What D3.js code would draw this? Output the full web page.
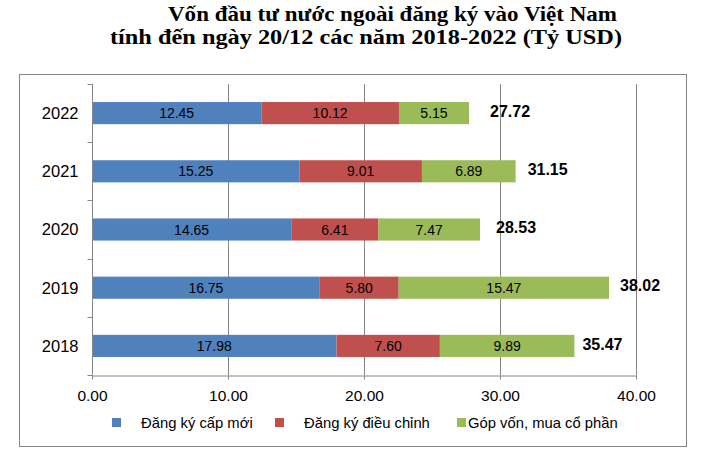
<!DOCTYPE html>
<html lang="vi">
  <head>
    <meta charset="UTF-8" />
    <title>Vốn đầu tư nước ngoài</title>
    <style>
      body { margin: 0; background: #fff; }
      svg text { font-family: "Liberation Sans", Arial, sans-serif; }
      .title { font-family: "Liberation Serif", "Times New Roman", serif !important; font-weight: bold; font-size: 21px; }
    </style>
  </head>
  <body>
    <div class="chart"></div>
    <script src="https://d3js.org/d3.v7.min.js"></script>
    <script>
    // data
    var years = ["2022", "2021", "2020", "2019", "2018"];
    var newReg = [12.45, 15.25, 14.65, 16.75, 17.98];
    var adjReg = [10.12, 9.01, 6.41, 5.80, 7.60];
    var shares = [5.15, 6.89, 7.47, 15.47, 9.89];
    var totals = [27.72, 31.15, 28.53, 38.02, 35.47];
    var seriesNames = ["Đăng ký cấp mới", "Đăng ký điều chỉnh", "Góp vốn, mua cổ phần"];
    var xTicks = [0, 10, 20, 30, 40];

    // layout: the total labels were nudged by hand in the original
    var totalNudge = [21, 12, 16, 11, 8];
    var colors = ["#4F81BD", "#C0504D", "#9BBB59"];
    var w = 707, h = 457;

    var svg = d3.select(".chart").append("svg")
      .attr("width", w)
      .attr("height", h);

    // title
    svg.append("text").attr("class", "title").attr("x", 168).attr("y", 21)
      .attr("textLength", 449).attr("lengthAdjust", "spacingAndGlyphs")
      .text("Vốn đầu tư nước ngoài đăng ký vào Việt Nam");
    svg.append("text").attr("class", "title").attr("x", 110).attr("y", 44)
      .attr("textLength", 512).attr("lengthAdjust", "spacingAndGlyphs")
      .text("tính đến ngày 20/12 các năm 2018-2022 (Tỷ USD)");

    // outer frame
    svg.append("rect")
      .attr("x", 19.5).attr("y", 74.5)
      .attr("width", 667).attr("height", 372)
      .attr("fill", "none")
      .attr("stroke", "#868686");

    var x = d3.scaleLinear().domain([0, 40]).range([92, 636]);
    var y = d3.scaleBand().domain(years).range([84, 375]).paddingInner(0.62).paddingOuter(0.31);

    // gridlines
    svg.append("g").selectAll("line")
      .data(xTicks.slice(1))
      .enter().append("line")
      .attr("x1", function(d) { return x(d) + 0.5; })
      .attr("x2", function(d) { return x(d) + 0.5; })
      .attr("y1", 84).attr("y2", 375)
      .attr("stroke", "#868686");

    // stacked bars
    var rows = years.map(function(yr, i) {
      return { year: yr, vals: [newReg[i], adjReg[i], shares[i]], total: totals[i], nudge: totalNudge[i] };
    });

    rows.forEach(function(r) {
      var start = 0;
      r.vals.forEach(function(v, k) {
        var g = svg.append("g");
        g.append("rect")
          .attr("x", x(start))
          .attr("y", y(r.year))
          .attr("width", x(start + v) - x(start))
          .attr("height", y.bandwidth())
          .attr("fill", colors[k]);
        g.append("text")
          .attr("x", (x(start) + x(start + v)) / 2)
          .attr("y", y(r.year) + y.bandwidth() / 2)
          .attr("dy", "0.36em")
          .attr("text-anchor", "middle")
          .attr("font-size", "14px")
          .text(v.toFixed(2));
        start += v;
      });
      svg.append("text")
        .attr("x", x(r.total) + r.nudge)
        .attr("y", y(r.year) + y.bandwidth() / 2 - 2)
        .attr("dy", "0.36em")
        .attr("font-size", "16px")
        .attr("font-weight", "bold")
        .text(r.total.toFixed(2));
    });

    // y axis
    var yAxis = svg.append("g").attr("transform", "translate(92.5,0)");
    yAxis.append("line").attr("y1", 84).attr("y2", 375).attr("stroke", "#868686");
    var bounds = d3.range(years.length + 1).map(function(i) { return 84 + i * y.step(); });
    yAxis.selectAll(".tk").data(bounds).enter().append("line")
      .attr("x1", -5).attr("x2", 0)
      .attr("y1", function(d) { return Math.round(d) + 0.5; })
      .attr("y2", function(d) { return Math.round(d) + 0.5; })
      .attr("stroke", "#868686");
    yAxis.selectAll("text").data(years).enter().append("text")
      .attr("x", -14)
      .attr("y", function(d) { return y(d) + y.bandwidth() / 2; })
      .attr("dy", "0.36em")
      .attr("text-anchor", "end")
      .attr("font-size", "16.5px")
      .text(function(d) { return d; });

    // x axis
    var xAxis = svg.append("g").attr("transform", "translate(0,375.5)")
      .call(d3.axisBottom(x).tickValues(xTicks).tickSize(4).tickSizeOuter(0).tickPadding(10)
        .tickFormat(function(d) { return d.toFixed(2); }));
    xAxis.select(".domain").attr("stroke", "#868686");
    xAxis.selectAll(".tick line").attr("stroke", "#868686");
    xAxis.selectAll(".tick text").attr("font-size", "15.5px").attr("fill", "#000")
      .style("font-family", "'Liberation Sans', Arial, sans-serif");

    // legend
    var legBox = [112, 275, 457];
    var legText = [141, 304, 468];
    var legend = svg.append("g");
    seriesNames.forEach(function(n, k) {
      legend.append("rect")
        .attr("x", legBox[k]).attr("y", 418)
        .attr("width", 9).attr("height", 9)
        .attr("fill", colors[k]);
      legend.append("text")
        .attr("x", legText[k]).attr("y", 423)
        .attr("dy", "0.36em")
        .attr("font-size", "14.8px")
        .text(n);
    });
    </script>
  </body>
</html>
